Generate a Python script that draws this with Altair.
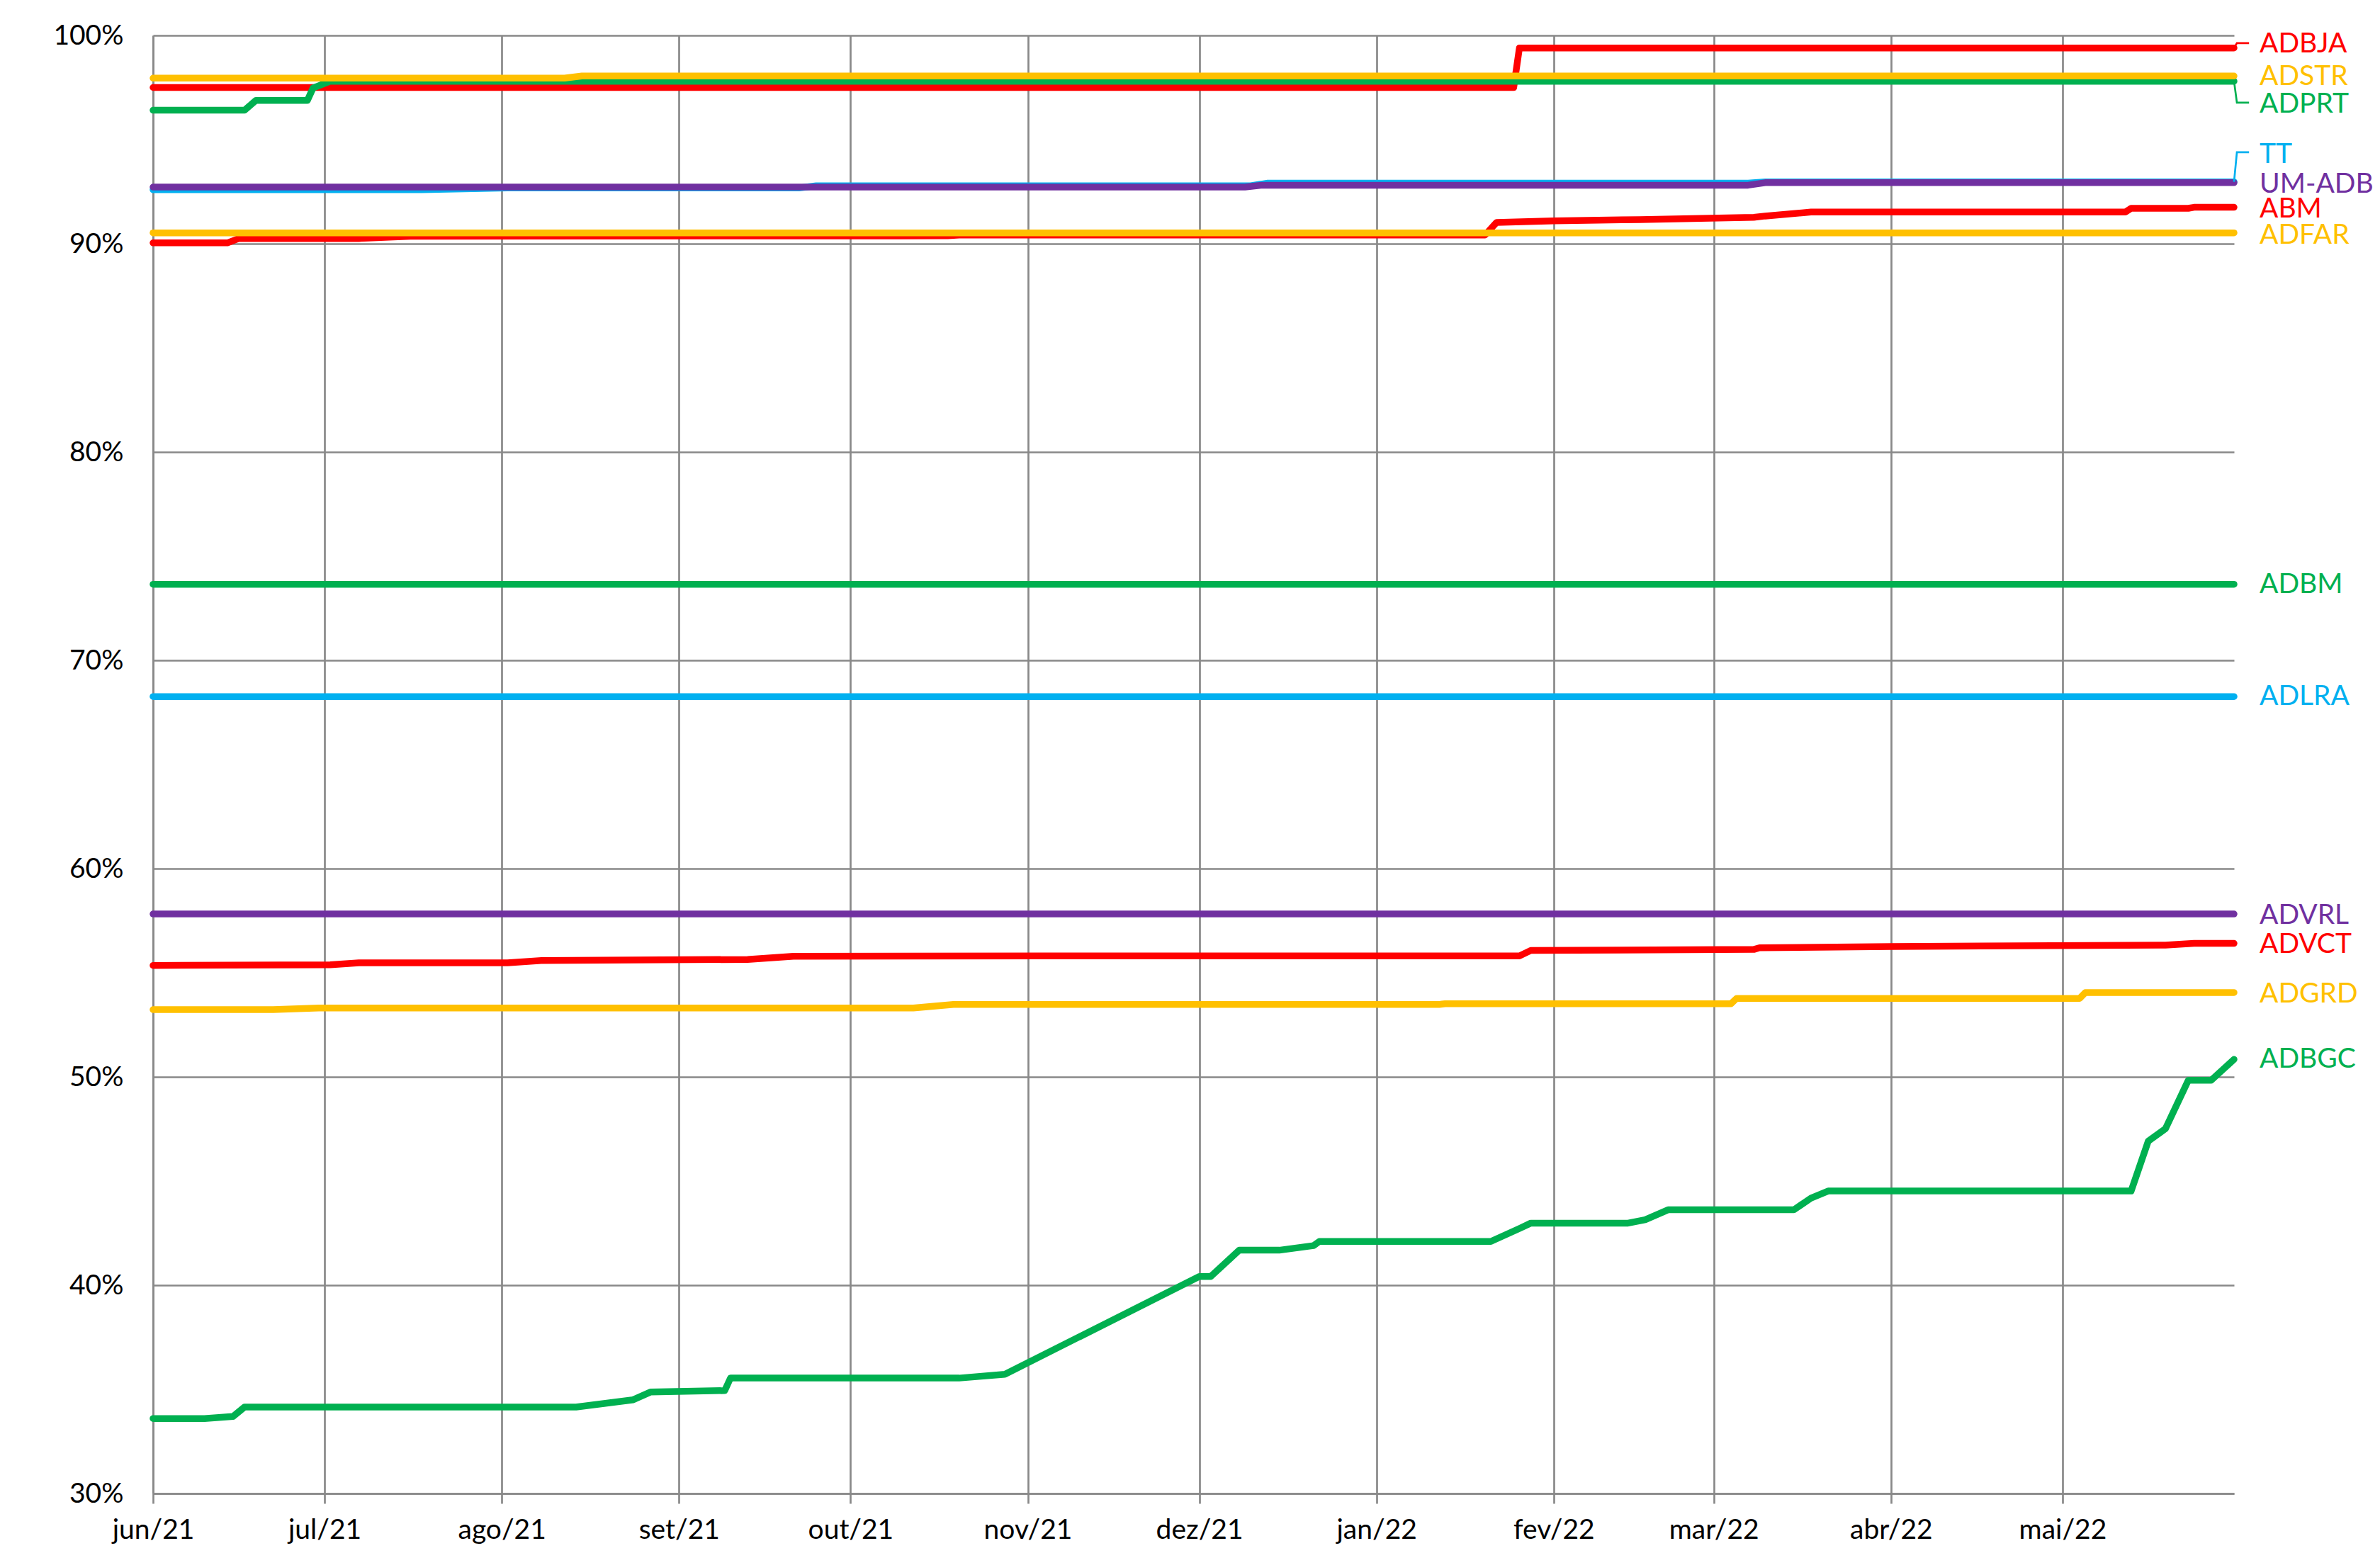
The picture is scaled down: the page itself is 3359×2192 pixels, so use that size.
import pandas as pd
import altair as alt

# colours used by the workbook
RED = "#FF0000"
GOLD = "#FFC000"
GREEN = "#00B050"
BLUE = "#00B0F0"
PURPLE = "#7030A0"
GRID = "#898989"
FONT = "Lato"

# ---- series (dates, % values) ----
adbja_dates = ["2021-06-01", "2022-01-25", "2022-01-26", "2022-05-31"]
adbja_vals = [97.5, 97.5, 99.4, 99.4]

adstr_dates = ["2021-06-01", "2021-08-12", "2021-08-15", "2022-05-31"]
adstr_vals = [97.95, 97.95, 98.05, 98.05]

adprt_dates = ["2021-06-01", "2021-06-17", "2021-06-19", "2021-06-28", "2021-06-29",
               "2021-07-02", "2022-05-31"]
adprt_vals = [96.41, 96.41, 96.88, 96.88, 97.48, 97.8, 97.8]

tt_dates = ["2021-06-01", "2021-07-18", "2021-08-02", "2021-09-22", "2021-09-25",
            "2021-12-10", "2021-12-13", "2022-03-07", "2022-03-10", "2022-05-31"]
tt_vals = [92.59, 92.59, 92.68, 92.68, 92.78, 92.78, 92.91, 92.91, 92.97, 92.97]

umadb_dates = ["2021-06-01", "2021-12-09", "2021-12-12", "2022-03-07", "2022-03-10", "2022-05-31"]
umadb_vals = [92.72, 92.72, 92.81, 92.81, 92.93, 92.93]

abm_dates = ["2021-06-01", "2021-06-14", "2021-06-16", "2021-07-07", "2021-07-16",
             "2021-10-18", "2021-10-20", "2022-01-20", "2022-01-22", "2022-02-01",
             "2022-02-16", "2022-03-08", "2022-03-10", "2022-03-18", "2022-05-12",
             "2022-05-13", "2022-05-23", "2022-05-24", "2022-05-31"]
abm_vals = [90.04, 90.04, 90.25, 90.25, 90.36, 90.38, 90.42, 90.42, 91.02, 91.1,
            91.16, 91.27, 91.33, 91.52, 91.52, 91.7, 91.7, 91.75, 91.75]

adfar_dates = ["2021-06-01", "2022-05-31"]
adfar_vals = [90.52, 90.52]

adbm_dates = ["2021-06-01", "2022-05-31"]
adbm_vals = [73.65, 73.65]

adlra_dates = ["2021-06-01", "2022-05-31"]
adlra_vals = [68.26, 68.26]

advrl_dates = ["2021-06-01", "2022-05-31"]
advrl_vals = [57.82, 57.82]

advct_dates = ["2021-06-01", "2021-07-02", "2021-07-07", "2021-08-02", "2021-08-08",
               "2021-09-13", "2021-09-21", "2021-11-04", "2022-01-26", "2022-01-28",
               "2022-03-08", "2022-03-09", "2022-04-01", "2022-05-19", "2022-05-24",
               "2022-05-31"]
advct_vals = [55.35, 55.38, 55.48, 55.48, 55.59, 55.64, 55.79, 55.81, 55.81, 56.07,
              56.12, 56.2, 56.26, 56.33, 56.41, 56.41]

adgrd_dates = ["2021-06-01", "2021-06-22", "2021-06-30", "2021-10-12", "2021-10-19",
               "2022-01-12", "2022-01-13", "2022-03-04", "2022-03-05", "2022-05-04",
               "2022-05-05", "2022-05-31"]
adgrd_vals = [53.23, 53.23, 53.31, 53.31, 53.48, 53.48, 53.51, 53.51, 53.77, 53.77,
              54.05, 54.05]

adbgc_dates = ["2021-06-01", "2021-06-10", "2021-06-15", "2021-06-17", "2021-08-14",
               "2021-08-24", "2021-08-27", "2021-09-09", "2021-09-10", "2021-10-20",
               "2021-10-28", "2021-12-01", "2021-12-03", "2021-12-08", "2021-12-15",
               "2021-12-21", "2021-12-22", "2022-01-21", "2022-01-26", "2022-01-28",
               "2022-02-14", "2022-02-17", "2022-02-21", "2022-03-15", "2022-03-18",
               "2022-03-21", "2022-05-13", "2022-05-16", "2022-05-19", "2022-05-23",
               "2022-05-27", "2022-05-31"]
adbgc_vals = [33.6, 33.6, 33.7, 34.15, 34.15, 34.5, 34.87, 34.94, 35.54, 35.54,
              35.72, 40.42, 40.42, 41.68, 41.68, 41.9, 42.1, 42.1, 42.72, 42.98,
              42.98, 43.14, 43.62, 43.62, 44.18, 44.52, 44.52, 46.92, 47.51, 49.84,
              49.84, 50.84]

# draw order (later ones sit on top, as in the workbook)
series = [
    ("ADBJA", RED, adbja_dates, adbja_vals),
    ("ABM", RED, abm_dates, abm_vals),
    ("ADVCT", RED, advct_dates, advct_vals),
    ("ADPRT", GREEN, adprt_dates, adprt_vals),
    ("ADBM", GREEN, adbm_dates, adbm_vals),
    ("ADBGC", GREEN, adbgc_dates, adbgc_vals),
    ("ADSTR", GOLD, adstr_dates, adstr_vals),
    ("ADFAR", GOLD, adfar_dates, adfar_vals),
    ("ADGRD", GOLD, adgrd_dates, adgrd_vals),
    ("TT", BLUE, tt_dates, tt_vals),
    ("ADLRA", BLUE, adlra_dates, adlra_vals),
    ("UM-ADB", PURPLE, umadb_dates, umadb_vals),
    ("ADVRL", PURPLE, advrl_dates, advrl_vals),
]

# data labels on the right: name and the % level they sit at
label_names = ["ADBJA", "ADSTR", "ADPRT", "TT", "UM-ADB", "ABM", "ADFAR",
               "ADBM", "ADLRA", "ADVRL", "ADVCT", "ADGRD", "ADBGC"]
label_levels = [99.6, 98.03, 96.71, 94.3, 92.86, 91.67, 90.42,
                73.65, 68.26, 57.77, 56.36, 53.98, 50.85]

# labels moved away from their line get a leader
leader_names = ["ADBJA", "ADPRT", "TT"]
leader_levels = [99.63, 96.77, 94.39]

month_ticks = [alt.DateTime(year=y, month=m, date=1, utc=True)
               for y, m in [(2021, 6), (2021, 7), (2021, 8), (2021, 9), (2021, 10),
                            (2021, 11), (2021, 12), (2022, 1), (2022, 2), (2022, 3),
                            (2022, 4), (2022, 5)]]

W, H = 2937, 2058

x_scale = alt.Scale(type="utc",
                    domain=[alt.DateTime(year=2021, month=6, date=1, utc=True),
                            alt.DateTime(year=2022, month=5, date=31, utc=True)])
y_scale = alt.Scale(domain=[30, 100], nice=False, zero=False)

x_axis = alt.Axis(
    values=month_ticks,
    labelExpr="['jan','fev','mar','abr','mai','jun','jul','ago','set','out','nov','dez']"
              "[utcmonth(datum.value)] + '/' + utcFormat(datum.value, '%y')",
    title=None, grid=True, gridColor=GRID, gridWidth=2.7,
    domainColor=GRID, domainWidth=2.7, tickColor=GRID, tickWidth=2.7, tickSize=14,
    labelFont=FONT, labelFontSize=39, labelColor="black", labelPadding=18,
    labelFlush=False, labelOverlap=False,
)
y_axis = alt.Axis(
    values=[30, 40, 50, 60, 70, 80, 90, 100],
    labelExpr="datum.value + '%'",
    title=None, grid=True, gridColor=GRID, gridWidth=2.7,
    domainColor=GRID, domainWidth=2.7, ticks=False,
    labelFont=FONT, labelFontSize=39, labelColor="black", labelPadding=42,
    labelFlush=False, labelOverlap=False,
)

# empty base layer carrying the axes and grid
axes_df = pd.DataFrame({"date": ["2021-06-01", "2022-05-31"], "value": [30, 100]})
base = alt.Chart(axes_df).mark_point(opacity=0).encode(
    x=alt.X("date:T", scale=x_scale, axis=x_axis),
    y=alt.Y("value:Q", scale=y_scale, axis=y_axis),
)

layers = [base]
end_value = {}
for name, color, dates, vals in series:
    df = pd.DataFrame({"date": dates, "value": vals})
    end_value[name] = vals[-1]
    layers.append(
        alt.Chart(df).mark_line(color=color, strokeWidth=9.5, strokeCap="round",
                                strokeJoin="round", clip=False).encode(
            x=alt.X("date:T", scale=x_scale),
            y=alt.Y("value:Q", scale=y_scale),
        )
    )

color_of = {name: color for name, color, _, _ in series}

# leader lines from the end of the line to the moved label
for name, level in zip(leader_names, leader_levels):
    ldf = pd.DataFrame({
        "date": ["2022-05-31T00:00:00Z", "2022-05-31T12:00:00Z", "2022-06-02T15:00:00Z"],
        "value": [end_value[name], level, level],
    })
    layers.append(
        alt.Chart(ldf).mark_line(color=color_of[name], strokeWidth=2.7, clip=False).encode(
            x=alt.X("date:T", scale=x_scale),
            y=alt.Y("value:Q", scale=y_scale),
        )
    )

labels_df = pd.DataFrame({"name": label_names, "value": label_levels})
labels = alt.Chart(labels_df).mark_text(
    align="left", baseline="middle", font=FONT, fontSize=39
).encode(
    x=alt.value(W + 36),
    y=alt.Y("value:Q", scale=y_scale),
    text="name:N",
    color=alt.Color("name:N", legend=None,
                    scale=alt.Scale(domain=label_names,
                                    range=[color_of[n] for n in label_names])),
)
layers.append(labels)

chart = alt.layer(*layers).properties(
    width=W, height=H,
    padding={"left": 208, "top": 42, "right": 198, "bottom": 71},
    autosize=alt.AutoSizeParams(type="none"),
    background="white",
).configure_view(stroke=None)

chart.save("out.html", embed_options={"renderer": "svg", "actions": False})
